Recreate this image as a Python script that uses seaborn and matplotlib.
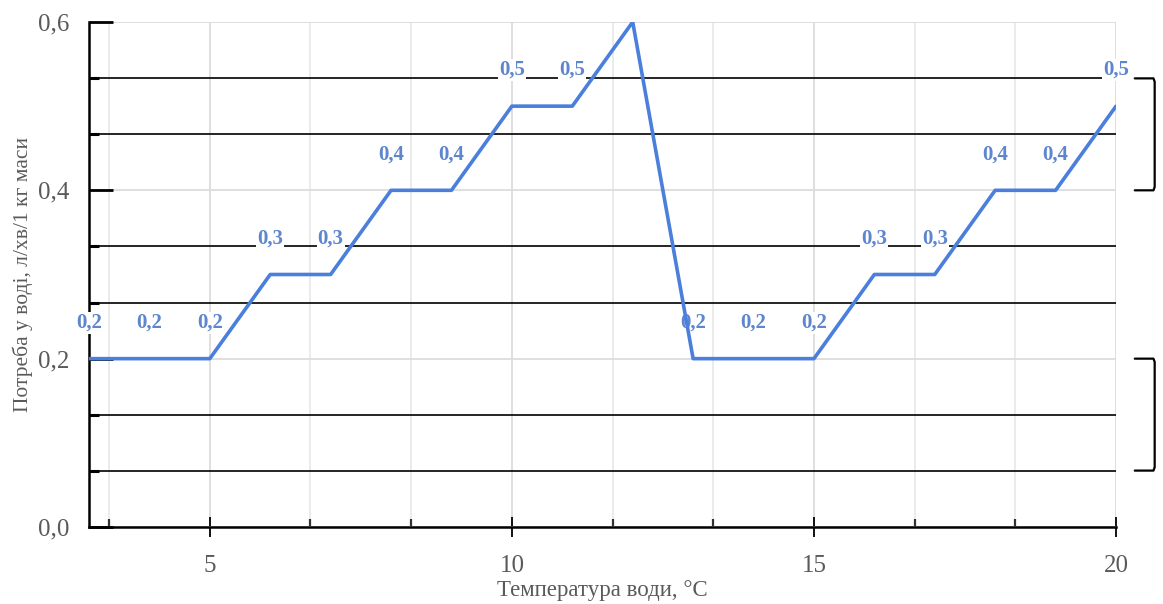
import numpy as np
import pandas as pd
import matplotlib
matplotlib.use("Agg")
import matplotlib.pyplot as plt
from matplotlib.ticker import MultipleLocator, FuncFormatter
import seaborn as sns

# ---- data ----
temperature = [3, 4, 5, 6, 7, 8, 9, 10, 11, 12, 13, 14, 15, 16, 17, 18, 19, 20]
demand = [0.2, 0.2, 0.2, 0.3, 0.3, 0.4, 0.4, 0.5, 0.5, 0.6, 0.2, 0.2, 0.2, 0.3, 0.3, 0.4, 0.4, 0.5]
point_labels = ["0,2", "0,2", "0,2", "0,3", "0,3", "0,4", "0,4", "0,5", "0,5", "",
                "0,2", "0,2", "0,2", "0,3", "0,3", "0,4", "0,4", "0,5"]
bracket_ranges = [(0.4, 0.533), (0.067, 0.2)]
x_label = "Температура води, °С"
y_label = "Потреба у воді, л/хв/1 кг маси"

df = pd.DataFrame({"t": temperature, "d": demand})

sns.set_theme(style="white")
plt.rcParams["font.family"] = ["Liberation Serif", "DejaVu Serif"]

line_color = "#4a7fdc"
label_color = "#5d86cf"
tick_color = "#5a5a5a"

fig = plt.figure(figsize=(11.63, 6.04), dpi=100)
ax = fig.add_axes([0.0765, 0.1275, 0.8831, 0.8361])

sns.lineplot(data=df, x="t", y="d", ax=ax, color=line_color, linewidth=2.6, zorder=5)

ax.set_xlim(3, 20)
ax.set_ylim(0, 0.6)
ax.xaxis.set_major_locator(MultipleLocator(5))
ax.xaxis.set_minor_locator(MultipleLocator(5 / 3))
ax.yaxis.set_major_locator(MultipleLocator(0.2))
ax.yaxis.set_minor_locator(MultipleLocator(0.2 / 3))
ax.yaxis.set_major_formatter(FuncFormatter(lambda v, p: f"{v:.1f}".replace(".", ",")))
ax.xaxis.set_major_formatter(FuncFormatter(lambda v, p: f"{v:.0f}"))

# grids
ax.grid(which="major", axis="both", color="#dcdcdc", linewidth=1.3, zorder=0)
ax.grid(which="minor", axis="x", color="#e6e6e6", linewidth=1.1, zorder=0)
ax.grid(which="minor", axis="y", color="black", linewidth=1.2, zorder=1)
ax.set_axisbelow(True)

for s in ["top", "right"]:
    ax.spines[s].set_visible(False)
for s in ["left", "bottom"]:
    ax.spines[s].set_color("black")
    ax.spines[s].set_linewidth(1.8)

ax.tick_params(axis="y", which="major", left=True, direction="in", length=17, width=2, color="black",
               labelsize=18, labelcolor=tick_color, pad=14)
ax.tick_params(axis="y", which="minor", left=True, direction="in", length=7, width=2.2, color="black")
ax.tick_params(axis="x", which="major", bottom=True, direction="inout", length=14, width=1.3, color="black",
               labelsize=18, labelcolor=tick_color, pad=13)
ax.tick_params(axis="x", which="minor", bottom=True, direction="in", length=6, width=1.6, color="#333333")

ax.set_xlabel(x_label, fontsize=16.5, color=tick_color, labelpad=2)
ax.set_ylabel(y_label, fontsize=15.5, color=tick_color, labelpad=4)

# point labels
for t, d, lab in zip(temperature, demand, point_labels):
    if lab:
        ax.annotate(lab, (t, d), xytext=(0, 26), textcoords="offset points",
                    ha="center", va="center", fontsize=15, fontweight="bold",
                    color=label_color, zorder=4,
                    bbox=dict(boxstyle="square,pad=0.05", fc="white", ec="none"))

# brackets on the right
for lo, hi in bracket_ranges:
    xs = [20.31, 20.62, 20.64, 20.64, 20.62, 20.31]
    ys = [hi, hi, hi - 0.004, lo + 0.004, lo, lo]
    ax.plot(xs, ys, color="black", linewidth=1.6, clip_on=False)

fig.savefig("out.png", dpi=100)
